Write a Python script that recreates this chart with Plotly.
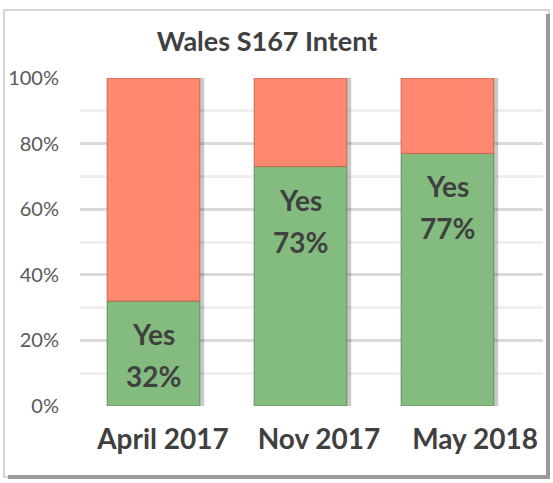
import plotly.graph_objects as go

categories = ["April 2017", "Nov 2017", "May 2018"]
yes_values = [32, 73, 77]
no_values = [68, 27, 23]
yes_labels = ["32%", "73%", "77%"]
y_ticks = [0, 20, 40, 60, 80, 100]
y_tick_labels = ["0%", "20%", "40%", "60%", "80%", "100%"]
title_text = "Wales S167 Intent"

W, H = 553, 483
L, R, T, B = 80, 0, 78, 77
pw, ph = W - L - R, H - T - B

def px_x(x):
    return (x - L) / pw

def px_y(y):
    return (H - B - y) / ph

FONT = "Lato"
green = "#84bc80"
red = "#fe8870"
BW = 0.63

totals = [a + b for a, b in zip(yes_values, no_values)]

fig = go.Figure()
fig.add_trace(go.Bar(x=categories, y=totals, width=BW, offset=-BW / 2 + 0.03,
                     marker=dict(color="rgba(60,60,60,0.28)", line=dict(width=0)),
                     hoverinfo="skip"))
fig.add_trace(go.Bar(x=categories, y=yes_values, name="Yes", width=BW, offset=-BW / 2,
                     marker=dict(color=green, line=dict(color="#5f8f5c", width=1))))
fig.add_trace(go.Bar(x=categories, y=no_values, base=yes_values, name="No", width=BW, offset=-BW / 2,
                     marker=dict(color=red, line=dict(color="#c8664f", width=1))))
# invisible trace carrying the category label axis
fig.add_trace(go.Scatter(x=categories, y=[None] * len(categories), xaxis="x2", yaxis="y2",
                         mode="markers", hoverinfo="skip", showlegend=False))

annotations = []
for c, v, lab in zip(categories, yes_values, yes_labels):
    annotations.append(dict(x=c, y=v, xref="x", yref="y", text="<b>Yes</b>", showarrow=False,
                            yanchor="middle", yshift=-33,
                            font=dict(family=FONT, size=28, color="#404040")))
    annotations.append(dict(x=c, y=v, xref="x", yref="y", text="<b>" + lab + "</b>", showarrow=False,
                            yanchor="middle", yshift=-75,
                            font=dict(family=FONT, size=28, color="#404040")))

shapes = [
    dict(type="rect", xref="paper", yref="paper", layer="below",
         x0=px_x(4), x1=px_x(549), y0=px_y(477), y1=px_y(10),
         line=dict(color="#d6d6d6", width=2), fillcolor="white"),
    dict(type="line", xref="paper", yref="paper",
         x0=px_x(548), x1=px_x(548), y0=px_y(478), y1=px_y(14),
         line=dict(color="#9a9a9a", width=4)),
    dict(type="line", xref="paper", yref="paper",
         x0=px_x(8), x1=px_x(550), y0=px_y(477), y1=px_y(477),
         line=dict(color="#9a9a9a", width=4)),
]

fig.update_layout(
    width=W, height=H,
    margin=dict(l=L, r=R, t=T, b=B),
    barmode="overlay",
    showlegend=False,
    paper_bgcolor="white",
    plot_bgcolor="rgba(0,0,0,0)",
    title=dict(text="<b>" + title_text + "</b>", x=267 / W, xanchor="center",
               y=1 - 42 / H, yanchor="middle",
               font=dict(family=FONT, size=27, color="#404040")),
    xaxis=dict(domain=[0, px_x(543)], range=[-0.5, 2.65], showgrid=False, showline=False,
               zeroline=False, showticklabels=False, ticks=""),
    xaxis2=dict(domain=[px_x(85), 1], range=[-0.5, 2.5], anchor="y2",
                showgrid=False, showline=False, zeroline=False,
                tickfont=dict(family=FONT, size=28, color="#404040"),
                ticks="", ticklabelstandoff=14,
                tickvals=categories, ticktext=["<b>" + c + "</b>" for c in categories]),
    yaxis=dict(range=[0, 100], tickvals=y_ticks, ticktext=y_tick_labels,
               gridcolor="#d9d9d9", gridwidth=3, zeroline=False, showline=False,
               tickfont=dict(family=FONT, size=20, color="#595959"),
               ticks="", ticklabelstandoff=20,
               minor=dict(dtick=10, showgrid=True, gridcolor="#efefef", gridwidth=3)),
    yaxis2=dict(domain=[0, 1], range=[0, 100], anchor="x2", showgrid=False, zeroline=False,
                showline=False, showticklabels=False, ticks=""),
    annotations=annotations,
    shapes=shapes,
)

fig.write_html("out.html", config={"displayModeBar": False},
               post_script="document.body.style.margin='0';")
